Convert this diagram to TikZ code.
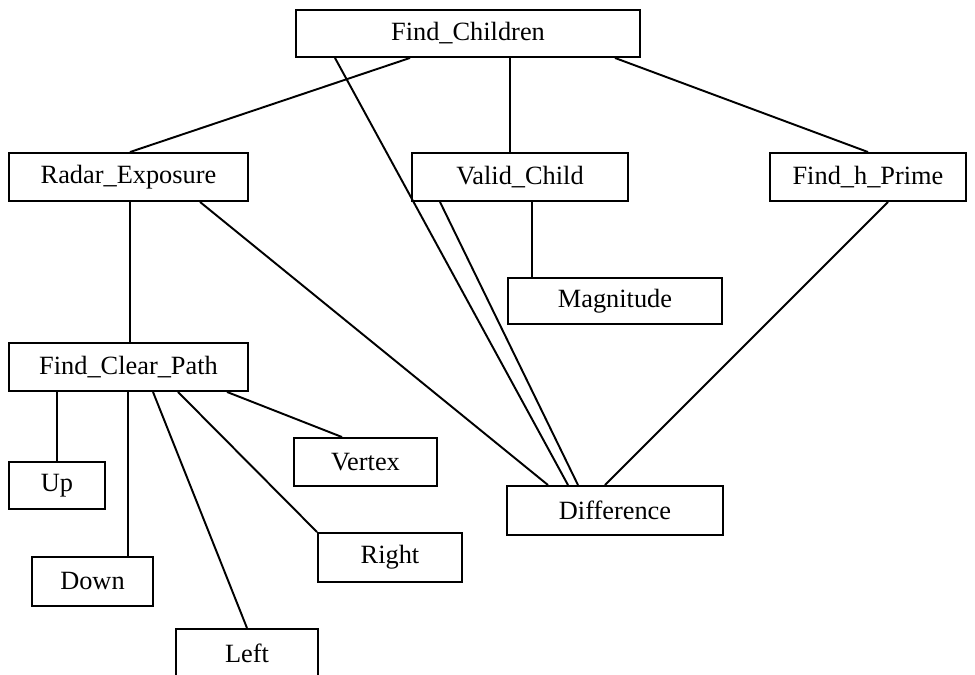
\documentclass[tikz,border=0pt]{standalone}
\usepackage{fontspec}
\setmainfont{Liberation Serif}
\usetikzlibrary{positioning}
\tikzset{
    % one box of the call tree
    module/.style={draw, line width=1.1pt, inner sep=0pt, minimum height=0.96cm,
        font=\fontsize{15}{18}\selectfont},
    % plain link between two modules
    call/.style={line width=1.1pt},
}

\begin{document}
\begin{tikzpicture}[x=0.02cm, y=-0.02cm]
    \useasboundingbox (0,0) rectangle (975,675);
    \clip (0,0) rectangle (975,675);

    % ---- top level ----
    \node[module, minimum width=6.88cm, minimum height=0.94cm] (fc) at (468,33.5) {Find\_Children};

    % ---- second row ----
    \node[module, minimum width=4.78cm] (radar)  at (128.5,177) {Radar\_Exposure};
    \node[module, minimum width=4.32cm] (valid)  at (520,177)   {Valid\_Child};
    \node[module, minimum width=3.92cm] (hprime) at (868,177)   {Find\_h\_Prime};
    \node[module, minimum width=4.28cm, minimum height=0.92cm] (mag) at (615,301) {Magnitude};

    % ---- clear path and its helpers ----
    \node[module, minimum width=4.78cm] (clear)  at (128.5,367) {Find\_Clear\_Path};
    \node[module, minimum width=1.92cm, minimum height=0.94cm] (up) at (57,485.5) {Up};
    \node[module, minimum width=2.86cm] (vertex) at (365.5,462) {Vertex};
    \node[module, minimum width=4.32cm, minimum height=0.98cm] (diff) at (615,510.5) {Difference};
    \node[module, minimum width=2.88cm, minimum height=0.98cm] (rgt)  at (390,557.5) {Right};
    \node[module, minimum width=2.42cm, minimum height=0.98cm] (down) at (92.5,581.5) {Down};
    \node[module, minimum width=2.84cm] (lft)    at (247,653)   {Left};

    % Find_Children -> callees
    \draw[call] (410,0 |- fc.south) -- (130,0 |- radar.north);
    \draw[call] (510,0 |- fc.south) -- (510,0 |- valid.north);
    \draw[call] (615,0 |- fc.south) -- (868,0 |- hprime.north);
    \draw[call] (335,0 |- fc.south) -- (568,0 |- diff.north);

    % second row -> callees
    \draw[call] (532,0 |- valid.south) -- (532,0 |- mag.north);
    \draw[call] (440,0 |- valid.south) -- (578,0 |- diff.north);
    \draw[call] (200,0 |- radar.south) -- (548,0 |- diff.north);
    \draw[call] (888,0 |- hprime.south) -- (605,0 |- diff.north);
    \draw[call] (130,0 |- radar.south) -- (130,0 |- clear.north);

    % Find_Clear_Path -> helpers
    \draw[call] (57,0 |- clear.south)  -- (57,0 |- up.north);
    \draw[call] (128,0 |- clear.south) -- (128,0 |- down.north);
    \draw[call] (153,0 |- clear.south) -- (247,0 |- lft.north);
    \draw[call] (178,0 |- clear.south) -- (rgt.north west);
    \draw[call] (227,0 |- clear.south) -- (342,0 |- vertex.north);
\end{tikzpicture}
\end{document}
